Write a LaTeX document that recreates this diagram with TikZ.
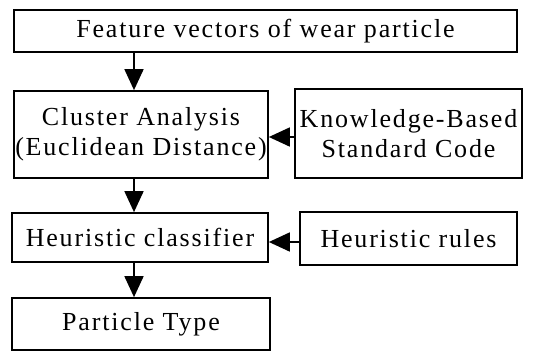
\documentclass[tikz,border=0pt]{standalone}
\usepackage{fontspec}
\setmainfont{Liberation Serif}[LetterSpace=7]
\usetikzlibrary{arrows.meta}
\begin{document}
\begin{tikzpicture}[x=1pt,y=-1pt,
  box/.style={draw,line width=1.7pt,inner sep=0pt,font=\fontsize{26}{30}\selectfont,align=center},
  arr/.style={line width=1.7pt,-{Triangle[width=19pt,length=21pt]}}]
\useasboundingbox (0,0) rectangle (537,351);
\node[box,minimum width=503pt,minimum height=42pt] (fv) at (265.5,31) {Feature vectors of wear particle};
\node[box,minimum width=254pt,minimum height=87pt] (ca) at (141,134.5) {Cluster Analysis\\(Euclidean Distance)};
\node[box,minimum width=227pt,minimum height=89pt] (kb) at (408.5,133.5) {Knowledge-Based\\Standard Code};
\node[box,minimum width=256pt,minimum height=49pt] (hc) at (140,237.5) {Heuristic classifier};
\node[box,minimum width=217pt,minimum height=53pt] (hr) at (408.5,238.5) {Heuristic rules};
\node[box,minimum width=258pt,minimum height=52pt] (pt) at (141,324) {Particle Type};
\coordinate (ax) at (134,0);
\coordinate (ky) at (0,137);
\coordinate (hy) at (0,242);
\draw[arr] (fv.south -| ax) -- (ca.north -| ax);
\draw[arr] (ca.south -| ax) -- (hc.north -| ax);
\draw[arr] (hc.south -| ax) -- (pt.north -| ax);
\draw[arr] (kb.west |- ky) -- (ca.east |- ky);
\draw[arr] (hr.west |- hy) -- (hc.east |- hy);
\end{tikzpicture}
\end{document}
